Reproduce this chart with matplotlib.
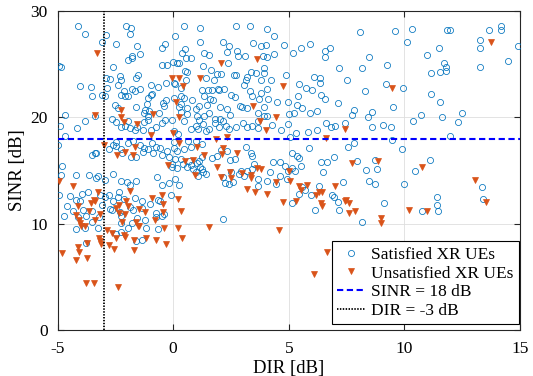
import numpy as np
import matplotlib
matplotlib.use("Agg")
import matplotlib.pyplot as plt

plt.rcParams['font.family'] = ['Liberation Serif', 'DejaVu Serif']
plt.rcParams['axes.unicode_minus'] = False

# (DIR [dB], SINR [dB])
satisfied = [
    (-4.12,28.63),(-3.83,27.82),(-2.03,28.63),(-1.82,28.44),(-1.88,27.88),(-2.89,27.79),(-3.07,27.10),(-2.49,26.88),
    (-1.55,26.72),(-0.47,26.56),(-0.36,26.94),(-1.78,25.75),(-1.42,26.0),(-1.97,25.37),(-1.77,25.56),(-4.92,24.87),
    (-4.83,24.75),(-2.58,24.75),(-0.48,24.96),(-0.26,24.96),(-2.92,23.71),(-2.75,23.62),(-2.30,23.87),(-2.27,23.55),
    (-1.61,23.71),(-1.51,23.99),(-4.04,22.96),(-3.54,22.86),(-2.88,22.80),(-2.39,23.02),(-1.80,22.68),(-1.64,22.49),
    (-1.45,22.68),(-0.94,23.05),(-0.64,22.86),(-0.29,23.24),(-3.51,22.05),(-3.08,22.11),(-2.94,21.99),(-2.26,22.14),
    (-2.11,22.52),(-2.06,21.99),(-1.94,22.05),(-1.10,21.80),(-0.97,22.11),(-0.90,22.21),(-0.44,21.36),(-0.39,21.05),
    (-0.31,21.67),(-4.69,20.26),(-2.50,21.14),(-2.37,20.92),(-1.62,21.02),(-1.13,21.27),(-1.22,20.73),(-1.27,20.42),
    (-1.04,20.64),(-1.07,20.11),(-0.61,20.42),(-3.38,20.11),
    (0.45,28.63),(1.15,28.41),(0.06,27.66),(2.71,28.63),(3.31,28.63),(4.05,28.32),(4.35,27.69),(1.16,27.13),
    (2.16,27.13),(2.40,26.75),(3.44,27.03),(3.78,26.75),(4.01,26.85),(4.80,26.78),(0.50,26.44),(0.38,26.03),
    (1.35,26.03),(1.57,25.91),(2.32,26.12),(2.75,26.22),(2.79,25.78),(3.10,25.81),(0.55,25.59),(0.77,25.62),
    (3.89,25.75),(4.08,25.65),(4.38,25.94),(-0.02,25.25),(0.15,25.12),(0.24,25.09),(2.37,25.09),(1.29,24.81),
    (0.50,24.34),(0.61,24.28),(1.64,24.49),(1.88,24.06),(2.07,24.06),(2.63,24.02),(2.74,24.02),(3.21,23.84),
    (3.37,24.31),(3.59,24.15),(3.92,24.62),(3.95,24.15),(4.90,23.96),(0.02,23.24),(0.09,23.12),(0.57,23.49),
    (1.42,23.74),(1.78,23.49),(3.07,23.05),(3.15,23.49),(3.82,23.49),(4.24,23.49),(0.32,22.80),(1.23,22.55),
    (1.52,22.61),(1.67,22.61),(1.93,22.65),(1.98,22.55),(2.19,22.68),(3.31,22.49),(3.79,22.30),(4.08,22.71),
    (0.05,21.86),(0.34,21.99),(0.48,21.83),(0.83,21.61),(1.35,21.99),(1.61,21.77),(1.74,21.67),(2.49,22.11),
    (2.68,21.89),(3.43,21.99),(3.70,21.77),(4.09,21.77),(4.50,21.49),(4.95,21.49),(0.35,21.27),(0.26,20.95),
    (0.58,20.86),(1.0,20.76),(1.10,21.05),(1.48,21.20),(2.03,20.98),(2.89,21.11),(2.97,20.95),(3.20,20.89),
    (3.95,20.95),(0.35,20.48),(0.58,20.29),(1.02,20.14),(1.35,20.14),(1.57,20.42),(2.35,20.80),(2.45,20.23),
    (3.69,20.45),(3.91,20.11),(4.08,20.11),(5.0,20.29),
    (8.06,28.07),(9.58,28.16),(5.92,26.88),(5.54,26.50),(5.20,26.09),(6.57,26.28),(6.79,26.53),(6.57,25.65),
    (8.48,25.72),(7.18,24.68),(8.17,24.65),(9.26,24.96),(6.11,23.81),(6.34,23.71),(6.34,23.27),(7.54,23.52),
    (5.43,23.12),(5.76,22.77),(5.99,22.55),(8.30,22.46),(9.21,23.15),(5.41,22.05),(6.38,22.14),(6.56,21.70),
    (5.37,21.20),(5.59,20.89),(7.12,21.39),(6.21,20.64),(5.24,20.45),(5.92,20.39),(7.80,20.67),(7.74,20.23),
    (8.59,20.48),(8.42,20.01),(9.52,20.95),
    (10.35,28.32),(11.86,28.26),(11.98,28.26),(13.66,28.26),(14.16,28.63),(14.16,28.19),(10.13,27.13),(13.28,27.28),
    (11.50,26.53),(13.28,26.53),(14.91,26.72),(10.98,25.91),(11.73,25.12),(11.82,24.71),(11.82,24.34),(11.53,24.24),
    (11.17,24.21),(13.28,24.78),(14.46,25.31),(9.93,22.77),(11.13,22.24),(11.56,21.45),(10.71,20.26),(11.63,20.01),
    (12.50,20.42),
    (-4.89,19.16),(-4.67,18.28),(-4.14,19.03),(-3.80,19.69),(-2.63,19.88),(-2.49,19.57),(-2.26,19.07),(-2.06,19.16),
    (-1.88,19.03),(-1.95,19.63),(-1.65,18.85),(-1.30,18.85),(-1.09,19.76),(-0.94,18.82),(-0.75,19.07),(-0.49,19.44),
    (-0.36,19.76),(-0.06,19.76),(0.05,18.75),(-1.26,19.60),(-1.55,19.07),(-5.0,17.44),(-3.50,16.50),(-3.38,16.62),
    (-3.33,16.62),(-2.76,17.06),(-2.59,17.44),(-2.45,17.34),(-2.26,17.03),(-1.94,17.56),(-1.72,17.75),(-1.42,17.37),
    (-1.25,17.15),(-1.07,17.03),(-0.93,17.59),(-0.75,17.25),(-0.57,17.15),(-0.49,16.43),(-0.26,16.81),(-0.16,16.31),
    (0.05,17.12),(-2.20,16.62),(-2.46,17.69),(-1.30,16.71),(-1.82,16.24),(-1.59,16.31),(-0.87,16.68),(-4.82,15.40),
    (-4.84,14.55),(-4.22,14.61),(-3.62,14.58),(-3.33,14.27),(-3.24,14.46),(-2.95,14.11),(-2.62,14.68),(-2.27,13.99),
    (-1.85,13.61),(-2.01,13.89),(-1.62,14.05),(-0.49,13.67),(-0.71,14.36),(-0.16,13.80),(0.08,14.21),(-4.92,12.73),
    (-4.48,12.64),(-4.21,12.23),(-3.96,12.80),(-3.70,13.02),(-4.04,12.17),(-3.18,12.67),(-2.95,12.48),(-2.76,12.70),
    (-2.58,12.11),(-2.33,13.02),(-2.37,12.48),(-2.13,12.33),(-1.65,12.45),(-1.36,12.11),(-0.64,12.23),(-0.09,12.67),
    (-4.57,11.67),(-4.32,11.23),(-3.91,11.32),(-3.53,11.23),(-3.07,11.79),(-2.73,11.42),(-2.63,11.29),(-2.29,11.10),
    (-1.88,11.57),(-1.74,11.32),(-1.35,11.45),(-1.0,11.86),(-0.55,12.11),(-0.74,11.04),(-4.70,10.76),(-4.11,10.66),
    (-3.75,10.76),(-3.21,10.66),(-2.26,10.76),(-1.58,10.54),(-1.22,10.35),(-0.75,10.60),(-0.49,10.73),(-0.38,10.92),
    (0.47,19.63),(0.76,18.91),(1.0,19.19),(1.07,18.94),(1.31,19.38),(1.13,19.76),(1.81,19.85),(2.01,19.85),
    (2.17,19.69),(2.29,19.19),(1.98,19.07),(1.83,19.44),(2.43,18.91),(1.42,18.75),(1.54,18.94),(2.74,19.07),
    (3.01,19.44),(3.21,19.07),(3.41,19.22),(3.65,18.98),(3.68,19.63),(4.28,19.29),(4.67,18.82),(4.95,19.38),
    (0.19,18.44),(0.03,17.66),(0.65,17.81),(0.99,17.81),(1.25,17.50),(0.48,17.03),(0.76,17.19),(0.18,16.81),
    (0.08,16.09),(0.35,16.09),(0.67,15.87),(-0.07,15.62),(-0.07,15.30),(0.15,15.24),(0.44,15.62),(0.61,15.37),
    (0.78,15.56),(0.87,15.15),(1.02,15.68),(1.10,15.93),(1.16,15.37),(1.25,15.15),(1.31,14.83),(1.42,14.68),
    (0.99,14.83),(1.07,14.52),(1.25,16.24),(1.67,16.15),(1.88,16.40),(2.09,16.93),(2.35,16.81),(2.46,15.99),
    (2.68,16.09),(3.13,17.19),(3.36,16.68),(3.39,16.40),(3.50,15.62),(2.84,14.68),(2.94,14.99),(3.18,14.99),
    (3.40,15.12),(2.50,14.83),(2.17,14.36),(2.26,13.86),(2.43,13.74),(2.61,13.89),(3.07,14.52),(3.65,14.21),
    (3.68,13.58),(4.05,14.05),(4.31,15.77),(4.63,15.84),(4.85,15.46),(4.95,14.93),(4.17,14.83),(4.63,14.52),
    (4.43,13.74),(4.92,14.18),(0.26,13.61),(2.17,10.45),
    (6.61,19.44),(6.84,19.13),(7.02,19.19),(7.45,19.44),(8.58,19.13),(9.07,19.32),(9.42,19.07),(9.45,17.87),
    (5.31,18.53),(5.83,18.60),(6.21,18.85),(5.05,18.13),(7.57,17.19),(7.80,17.56),(5.86,17.09),(9.88,17.03),
    (5.14,16.68),(5.37,16.40),(5.43,16.15),(6.95,16.31),(6.41,15.84),(6.67,15.84),(7.93,15.87),(8.75,16.03),
    (5.14,15.24),(5.25,14.93),(5.54,15.40),(6.47,14.90),(8.32,15.05),(8.80,15.18),(8.46,13.99),(8.71,13.74),
    (7.35,13.89),(9.98,13.74),(5.43,12.80),(5.57,13.49),(5.69,13.17),(5.98,12.70),(6.30,13.52),(6.87,12.67),
    (6.97,12.51),(7.13,12.08),(5.14,11.92),(6.12,11.29),(7.19,11.32),(9.13,11.98),(8.17,10.16),
    (10.36,19.63),(12.30,19.57),(11.98,18.25),(11.11,15.99),(10.45,14.99),(11.40,12.55),(11.40,11.79),(11.46,11.23),
    (10.76,11.23),(13.34,13.49),(13.40,12.36),
    (-4.19,9.50),(-3.79,9.59),(-3.53,10.19),(-3.24,9.56),(-2.24,10.06),(-2.24,9.19),(-2.45,9.06),(-1.97,9.59),
    (-1.78,10.06),(-1.19,9.59),(-0.67,9.50),(-1.36,8.50),(-1.61,8.37),(-3.75,8.18),
]

unsatisfied = [
    (-3.30,26.06),(-2.24,20.73),(-3.37,20.23),(-2.26,20.07),(-0.87,20.33),
    (2.09,25.12),(3.62,25.50),(-0.07,23.71),(0.26,23.71),(0.41,22.99),(1.16,23.74),(4.74,22.99),(0.12,21.45),
    (3.47,21.08),(4.43,20.01),(0.25,20.01),(9.47,22.80),(13.74,27.10),
    (-2.13,19.60),(-1.56,19.35),(-0.94,18.35),(-0.02,18.50),(-2.97,17.40),(-2.43,16.50),(-2.10,16.78),(-1.72,16.50),
    (-1.64,17.19),(-0.21,15.52),(-4.92,13.99),(-4.34,13.58),(-3.23,12.98),(-1.88,13.05),(-3.44,12.23),(-3.56,11.98),
    (-3.38,12.11),(-4.11,11.70),(-3.63,11.20),(-4.22,10.85),(-4.05,10.38),(-3.17,10.92),(-2.34,11.76),(-2.47,11.48),
    (-2.36,10.98),(-2.03,12.11),(-1.97,11.67),(-2.07,10.95),(-1.49,11.39),(-1.22,11.14),(-0.93,12.45),(-0.47,12.73),
    (-0.44,11.82),(-0.78,10.35),(-2.19,10.19),(-3.37,10.35),(-1.59,10.13),(-0.44,11.07),(-4.04,10.04),
    (3.76,19.63),(4.01,18.82),(0.26,17.56),(1.02,17.19),(2.17,17.09),(2.13,16.56),(2.78,16.68),(1.35,16.50),
    (0.50,15.87),(0.84,16.03),(1.88,15.30),(0.94,14.58),(2.09,14.43),(2.46,14.90),(2.52,14.27),(2.98,14.74),
    (3.36,14.58),(3.36,14.27),(3.62,15.24),(3.79,15.12),(3.21,13.30),(3.56,13.02),(4.05,12.77),(4.43,13.89),
    (4.77,12.08),(0.22,12.33),(0.32,11.17),(2.32,18.19),(1.85,17.97),
    (7.45,18.91),(6.61,18.06),(8.87,15.93),(7.74,15.68),(5.02,14.99),(5.05,13.99),(5.46,13.58),(5.54,13.17),
    (5.77,13.67),(7.02,13.58),(6.30,12.98),(6.18,12.73),(6.44,13.02),(7.48,12.23),(7.60,11.92),(7.42,12.17),
    (6.41,11.92),(6.44,11.70),(7.88,11.17),(7.60,10.98),(5.31,12.17),(9.0,10.54),(8.98,10.04),
    (10.78,15.37),(13.05,14.11),(13.54,12.04),(10.19,11.29),(10.97,11.17),
    (-3.98,9.81),(-3.82,9.75),(-2.84,9.41),(-2.63,9.09),(-1.53,9.81),(-1.48,9.75),(-2.47,8.65),(-2.13,8.94),
    (-2.06,8.78),(-3.20,8.65),(-3.17,8.37),(-3.10,8.06),(-2.78,8.0),(-2.55,7.62),(-1.68,7.56),(-1.68,8.43),
    (-1.19,8.68),(-0.75,8.47),(-0.29,8.09),(-0.38,9.59),(-4.80,7.21),(-4.05,7.37),(-4.11,7.84),(-3.73,8.15),
    (-4.22,6.55),(-3.72,6.77),(-3.76,4.39),(-3.44,4.45),(-2.37,4.08),
    (0.22,9.56),(0.39,8.62),(1.55,9.72),(4.57,9.41),(6.64,7.31),(6.08,5.24),
]

sinr_threshold = 18
dir_threshold = -3
x_ticks = [-5, 0, 5, 10, 15]
y_ticks = [0, 10, 20, 30]
legend_labels = ['Satisfied XR UEs', 'Unsatisfied XR UEs', 'SINR = 18 dB', 'DIR = -3 dB']

sat = np.array(satisfied)
uns = np.array(unsatisfied)

fig = plt.figure(figsize=(5.33, 3.76), dpi=100)
ax = fig.add_axes([0.1079, 0.1223, 0.8677, 0.8484])

blue = (0.0, 0.447, 0.741)
orange = (0.850, 0.325, 0.098)

ax.plot(sat[:, 0], sat[:, 1], linestyle='none', marker='o', markersize=4.4,
        markerfacecolor='none', markeredgecolor=blue, markeredgewidth=0.55,
        label=legend_labels[0], zorder=3)
ax.plot(uns[:, 0], uns[:, 1], linestyle='none', marker='v', markersize=4.2,
        markerfacecolor=orange, markeredgecolor=orange, markeredgewidth=0.5,
        label=legend_labels[1], zorder=3)
ax.axhline(sinr_threshold, color=(0, 0, 1), linewidth=1.5, linestyle=(0, (3, 1.7)),
           label=legend_labels[2], zorder=4)
ax.axvline(dir_threshold, color='black', linewidth=1.3, linestyle=(0, (0.8, 0.8)),
           label=legend_labels[3], zorder=4)

ax.set_xlim(-5, 15)
ax.set_ylim(0, 30)
ax.set_xticks(x_ticks)
ax.set_yticks(y_ticks)
ax.set_xticklabels([str(t) for t in x_ticks])
ax.set_yticklabels([str(t) for t in y_ticks])
ax.grid(True, color=(0.87, 0.87, 0.87), linewidth=0.6)
ax.set_axisbelow(True)
for s in ax.spines.values():
    s.set_color((0.15, 0.15, 0.15))
    s.set_linewidth(0.8)
ax.tick_params(direction='in', length=4, width=0.8, colors=(0.15, 0.15, 0.15),
               labelcolor='black', labelsize=12.5, top=True, right=True)
ax.tick_params(axis='x', pad=8)
ax.tick_params(axis='y', pad=7)
ax.set_xlabel('DIR [dB]', fontsize=13.5, labelpad=2)
ax.set_ylabel('SINR [dB]', fontsize=13.5, labelpad=3)

leg = ax.legend(loc='lower right', bbox_to_anchor=(0.998, 0.018), fontsize=12.5,
                frameon=True, fancybox=False, edgecolor='black', framealpha=1,
                handlelength=1.65, handletextpad=0.35, borderpad=0.3, labelspacing=0.15,
                borderaxespad=0)
leg.get_frame().set_linewidth(0.8)

fig.savefig('out.png', dpi=100)
